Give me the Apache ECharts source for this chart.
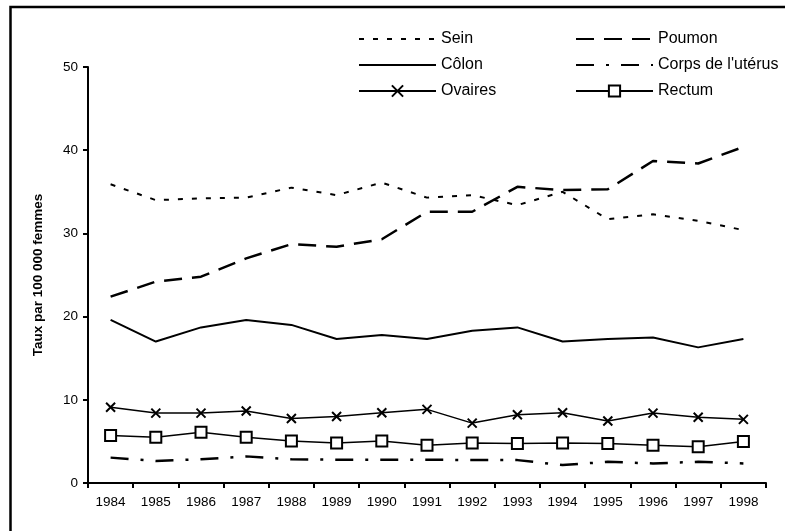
<!DOCTYPE html>
<html>
<head>
<meta charset="utf-8">
<script src="https://cdn.jsdelivr.net/npm/echarts@6/dist/echarts.min.js"></script>
<style>
html,body{margin:0;padding:0;background:#fff;}
#chart{width:785px;height:531px;}
</style>
</head>
<body>
<div id="chart"></div>
<script>
const years = ['1984','1985','1986','1987','1988','1989','1990','1991','1992','1993','1994','1995','1996','1997','1998'];
const sein    = [35.9, 34.0, 34.2, 34.3, 35.5, 34.6, 36.1, 34.3, 34.6, 33.4, 35.0, 31.7, 32.3, 31.5, 30.4];
const poumon  = [22.4, 24.2, 24.8, 27.0, 28.7, 28.4, 29.3, 32.6, 32.6, 35.6, 35.2, 35.3, 38.7, 38.4, 40.4];
const colon   = [19.6, 17.0, 18.7, 19.6, 19.0, 17.3, 17.8, 17.3, 18.3, 18.7, 17.0, 17.3, 17.5, 16.3, 17.3];
const uterus  = [3.05, 2.65, 2.85, 3.2, 2.85, 2.8, 2.8, 2.8, 2.75, 2.75, 2.15, 2.55, 2.35, 2.55, 2.35];
const ovaires = [9.1, 8.4, 8.4, 8.65, 7.75, 8.0, 8.45, 8.85, 7.2, 8.2, 8.45, 7.45, 8.4, 7.9, 7.65];
const rectum  = [5.7, 5.5, 6.1, 5.5, 5.05, 4.8, 5.05, 4.55, 4.8, 4.75, 4.8, 4.75, 4.55, 4.35, 5.0];
const yTicks = {min: 0, max: 50, interval: 10};

const chart = echarts.init(document.getElementById('chart'), null, {renderer: 'canvas'});
const axisFont = {fontFamily: 'Liberation Sans, Arial, sans-serif', fontSize: 13.5, color: '#000'};
const legendText = {fontFamily: 'Liberation Sans, Arial, sans-serif', fontSize: 16, color: '#000', lineHeight: 16};
const noSym = {opacity: 0, color: 'rgba(0,0,0,0)', borderWidth: 0};

function lineSeries(name, data, lineStyle, extra) {
  return Object.assign({
    name: name, type: 'line', data: data,
    symbol: 'none', animation: false, silent: true,
    lineStyle: Object.assign({color: '#000'}, lineStyle),
    itemStyle: {color: '#000'}
  }, extra || {});
}

chart.setOption({
  backgroundColor: '#fff',
  animation: false,
  graphic: [{
    type: 'rect', silent: true,
    shape: {x: 10.5, y: 7, width: 900, height: 700},
    style: {fill: 'none', stroke: '#000', lineWidth: 2.5}
  }],
  grid: {left: 88, top: 67, right: 19, bottom: 48, containLabel: false},
  legend: [{
    data: [{name: 'Sein', itemStyle: noSym}, {name: 'Côlon', itemStyle: noSym}, 'Ovaires'],
    orient: 'vertical', left: 353, top: 26,
    itemWidth: 77, itemHeight: 14, itemGap: 10,
    textStyle: legendText, selectedMode: false
  }, {
    data: [{name: 'Poumon', itemStyle: noSym}, {name: "Corps de l'utérus", itemStyle: noSym}, 'Rectum'],
    orient: 'vertical', left: 570, top: 26,
    itemWidth: 77, itemHeight: 14, itemGap: 10,
    textStyle: legendText, selectedMode: false
  }],
  xAxis: {
    type: 'category', data: years, boundaryGap: true,
    axisLine: {lineStyle: {color: '#000', width: 2}},
    axisTick: {show: true, length: 5, lineStyle: {color: '#000', width: 2}},
    axisLabel: Object.assign({margin: 12}, axisFont),
    splitLine: {show: false}
  },
  yAxis: {
    type: 'value', min: yTicks.min, max: yTicks.max, interval: yTicks.interval,
    name: 'Taux par 100 000 femmes', nameLocation: 'middle', nameGap: 43, nameRotate: 90,
    nameTextStyle: {fontFamily: 'Liberation Sans, Arial, sans-serif', fontSize: 13.5, fontWeight: 'bold', color: '#000'},
    axisLine: {show: true, lineStyle: {color: '#000', width: 2}},
    axisTick: {show: true, length: 5, lineStyle: {color: '#000', width: 2}},
    axisLabel: Object.assign({margin: 10}, axisFont),
    splitLine: {show: false}
  },
  series: [
    lineSeries('Sein', sein, {width: 2, type: [5, 9]}),
    lineSeries('Poumon', poumon, {width: 2.5, type: [18, 10]}),
    lineSeries('Côlon', colon, {width: 2, type: 'solid'}),
    lineSeries("Corps de l'utérus", uterus, {width: 2.5, type: [18, 12, 3, 12]}),
    lineSeries('Ovaires', ovaires, {width: 1.5, type: 'solid'}, {
      symbol: 'path://M0,0L10,10M10,0L0,10', symbolSize: 9, showSymbol: true,
      itemStyle: {color: 'rgba(0,0,0,0)', borderColor: '#000', borderWidth: 2}
    }),
    lineSeries('Rectum', rectum, {width: 1.5, type: 'solid'}, {
      symbol: 'rect', symbolSize: 11, showSymbol: true,
      itemStyle: {color: '#fff', borderColor: '#000', borderWidth: 2}
    })
  ]
});
</script>
</body>
</html>
